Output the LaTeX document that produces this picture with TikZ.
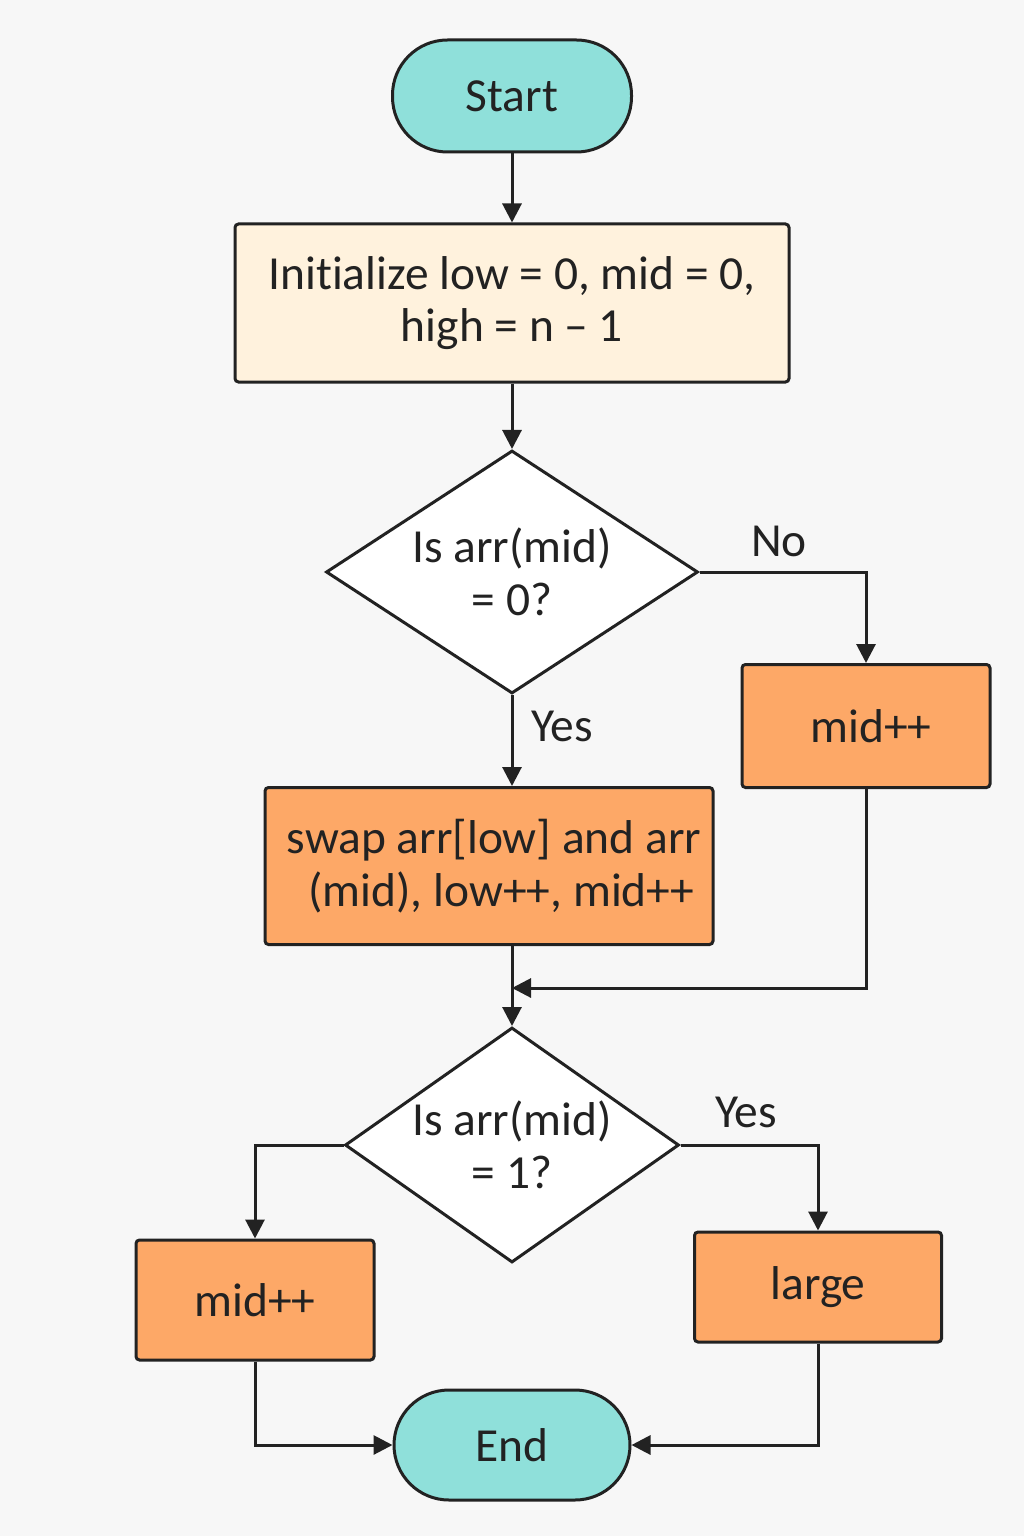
\documentclass[tikz,border=0pt]{standalone}
\usepackage{fontspec}
\setmainfont{Carlito}[Ligatures=NoCommon]
\usetikzlibrary{arrows.meta,shapes.geometric}
\definecolor{bgcol}{HTML}{F7F7F7}
\definecolor{termcol}{HTML}{8FE0DA}
\definecolor{initcol}{HTML}{FFF2DD}
\definecolor{stepcol}{HTML}{FDA867}
\definecolor{linecol}{HTML}{222222}
\begin{document}
\begin{tikzpicture}[every node/.style={draw=linecol, line width=0.06cm, text=linecol, inner sep=0pt, align=center, font=\fontsize{27}{30}\selectfont},
		termbox/.style={rounded corners=1.1cm, fill=termcol},
		stepbox/.style={rounded corners=2pt, fill=stepcol},
		testbox/.style={diamond, fill=white, inner sep=-0.5cm},
		lbl/.style={draw=none, fill=none},
		arr/.style={line width=0.06cm, draw=linecol, -{Triangle[length=0.38cm, width=0.38cm]}}
	]
	% \draw[help lines] (0,0) grid (20,-30);
	\fill[bgcol] (0,0) rectangle (20.48,-30.72);

	% top part
	\node[termbox, minimum width=4.78cm, minimum height=2.24cm] (start) at (10.24,-1.92) [] {Start};
	\node[rounded corners=2pt, fill=initcol, minimum width=11.08cm, minimum height=3.16cm] (init) at (10.24,-6.06) [] {Initialize low = 0, mid = 0,\\ high = n -- 1};
	\node[testbox, minimum width=7.44cm, minimum height=4.86cm] (zero) at (10.24,-11.44) [] {Is arr(mid)\\ = 0?};
	\node[stepbox, minimum width=4.96cm, minimum height=2.46cm] (midA) at (17.32,-14.52) [] {\hspace{0.2cm}mid++};
	\node[stepbox, minimum width=8.96cm, minimum height=3.14cm] (swap) at (9.78,-17.32) [] {\hspace{0.2cm}swap arr[low] and arr\\ \hspace{0.5cm}(mid), low++, mid++};
	\coordinate (join) at (10.24,-19.76);

	% bottom part
	\node[testbox, minimum width=6.68cm, minimum height=4.70cm] (one) at (10.24,-22.9) [] {Is arr(mid)\\ = 1?};
	\node[stepbox, minimum width=4.76cm, minimum height=2.40cm] (midB) at (5.10,-26.0) [] {mid++};
	\node[stepbox, minimum width=4.94cm, minimum height=2.20cm] (large) at (16.36,-25.74) [] {large};
	\node[termbox, minimum width=4.72cm, minimum height=2.20cm] (end) at (10.24,-28.9) [] {End};

	\node[lbl] (no) at (15.58,-10.82) [] {No};
	\node[lbl] (yesA) at (11.24,-14.52) [] {Yes};
	\node[lbl] (yesB) at (14.92,-22.24) [] {Yes};

	\draw[arr] (start) -- (init);
	\draw[arr] (init) -- (zero);
	\draw[arr] (zero.east) -| (midA.north);
	\draw[arr] (zero.south) -- (zero.south |- swap.north);
	\draw[arr] (swap.south -| one.north) -- (one.north);
	\draw[arr] (midA.south) |- (join);
	\draw[arr] (one.west) -| (midB.north);
	\draw[arr] (one.east) -| (large.north);
	\draw[arr] (midB.south) |- (end.west);
	\draw[arr] (large.south) |- (end.east);
\end{tikzpicture}
\end{document}
